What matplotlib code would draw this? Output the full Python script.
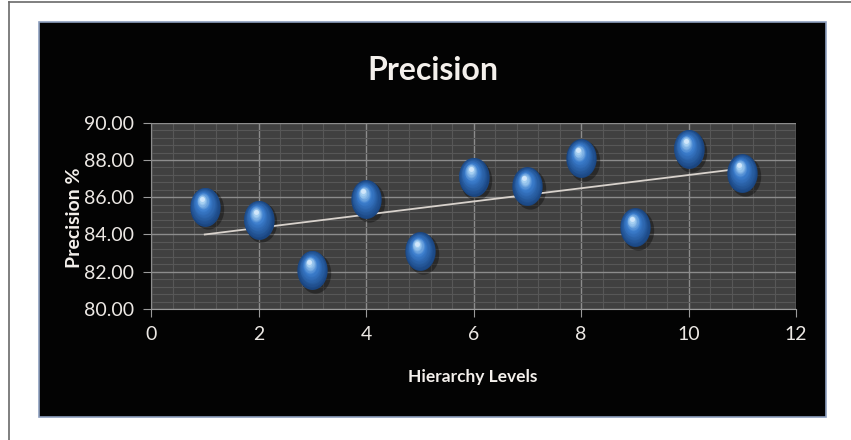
import numpy as np
import matplotlib.pyplot as plt
from matplotlib.patches import Rectangle
from matplotlib.lines import Line2D
from matplotlib.path import Path
from matplotlib.transforms import ScaledTranslation
from matplotlib.ticker import MultipleLocator, FormatStrFormatter
from matplotlib.colors import to_rgb

# hierarchy level vs precision
levels = [1, 2, 3, 4, 5, 6, 7, 8, 9, 10, 11]
precision = [85.5, 84.8, 82.1, 85.9, 83.1, 87.1, 86.6, 88.1, 84.4, 88.6, 87.3]

title = 'Precision'
xlabel = 'Hierarchy Levels'
ylabel = 'Precision %'

plt.rcParams['font.family'] = ['Lato', 'DejaVu Sans']

fig = plt.figure(figsize=(8.51, 4.40), dpi=100)
fig.patch.set_facecolor('white')

# outer frame lines (left + top) and the black chart panel, kept behind the axes
fig.add_artist(Line2D([9 / 851, 9 / 851], [0, 1 - 2 / 440], color='#6a6a6a', lw=1.2,
                      zorder=-2))
fig.add_artist(Line2D([9 / 851, 1], [1 - 2 / 440, 1 - 2 / 440], color='#6a6a6a', lw=1.2,
                      zorder=-2))
fig.add_artist(Rectangle((39 / 851, 1 - 417 / 440), (826 - 39) / 851, (417 - 22) / 440,
                         transform=fig.transFigure, facecolor='#030303',
                         edgecolor='#8ea0bf', lw=1.2, zorder=-1))

ax = fig.add_axes([151 / 851, 1 - 309 / 440, (796 - 151) / 851, (309 - 122.7) / 440])
ax.set_facecolor('#404040')
ax.set_xlim(0, 12)
ax.set_ylim(80, 90)

ax.xaxis.set_major_locator(MultipleLocator(2))
ax.xaxis.set_minor_locator(MultipleLocator(0.4))
ax.yaxis.set_major_locator(MultipleLocator(2))
ax.yaxis.set_minor_locator(MultipleLocator(0.4))
ax.yaxis.set_major_formatter(FormatStrFormatter('%.2f'))

ax.grid(which='minor', color='#575757', lw=0.8)
ax.grid(which='major', color='#8c8c8c', lw=1.0)
ax.set_axisbelow(True)

for s in ['top', 'right']:
    ax.spines[s].set_visible(False)
ax.spines['left'].set_color('#8c8c8c')
ax.spines['bottom'].set_color('#9a9a9a')

ax.tick_params(which='major', length=6, color='#9a9a9a', labelcolor='#ece8e4',
               labelsize=14, pad=6)
ax.tick_params(which='minor', length=0)

fig.text(433 / 851, 1 - 70 / 440, title, color='#f4f0ec', fontsize=23,
         fontweight='bold', ha='center', va='center')
fig.text(473 / 851, 1 - 377 / 440, xlabel, color='#f4f0ec', fontsize=12.5,
         fontweight='bold', ha='center', va='center')
fig.text(75 / 851, 1 - 218 / 440, ylabel, color='#f4f0ec', fontsize=14,
         fontweight='bold', ha='center', va='center', rotation=90)

# linear trend line
coef = np.polyfit(levels, precision, 1)
tx = np.array([levels[0], levels[-1]])
ax.plot(tx, np.polyval(coef, tx), color='#d8d2cc', lw=1.3, zorder=4)

# egg-shaped marker (taller than wide)
t = np.linspace(0, 2 * np.pi, 60)
egg = Path(np.column_stack([0.39 * np.cos(t), 0.5 * np.sin(t)]), closed=True)


def shifted(dx, dy):
    return ax.transData + ScaledTranslation(dx / 72, dy / 72, fig.dpi_scale_trans)


# soft shadow
ax.scatter(levels, precision, s=29 ** 2, marker=egg, color='black', alpha=0.35,
           lw=0, zorder=3, transform=shifted(2, -2))

# shaded sphere: stacked layers going from dark rim to bright highlight
dark = np.array(to_rgb('#1a4580'))
mid = np.array(to_rgb('#3a7ccc'))
light = np.array(to_rgb('#a6d0f2'))
n = 16
for i in range(n):
    f = i / (n - 1)
    if f < 0.65:
        c = dark + (mid - dark) * (f / 0.65)
    else:
        c = mid + (light - mid) * ((f - 0.65) / 0.35)
    size = 28 * (1 - 0.8 * f)
    ax.scatter(levels, precision, s=size ** 2, marker=egg, color=c, lw=0,
               zorder=5, transform=shifted(-2.0 * f, 5.0 * f))

# soft specular glint
ax.scatter(levels, precision, s=3.5 ** 2, marker='o', color='#e4f2ff', alpha=0.7,
           lw=0, zorder=6, transform=shifted(-2.0, 5.5))

fig.savefig('out.png', dpi=100, facecolor=fig.get_facecolor())
